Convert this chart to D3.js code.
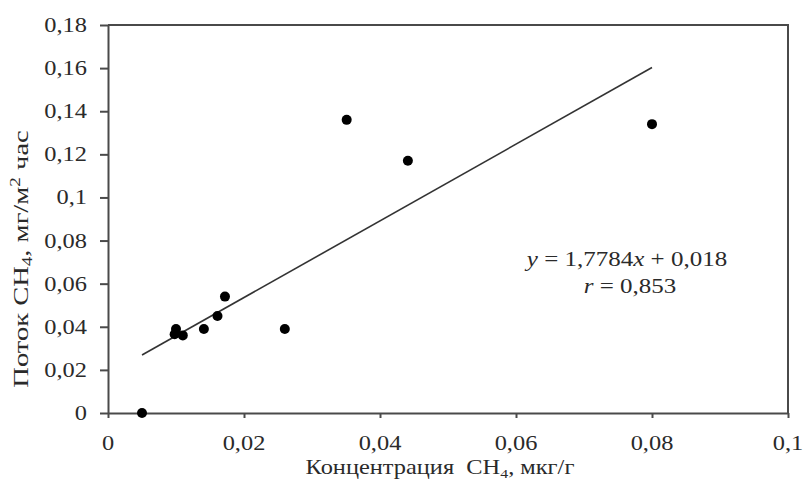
<!DOCTYPE html>
<html>
<head>
<meta charset="utf-8">
<script src="https://cdn.jsdelivr.net/npm/d3@7/dist/d3.min.js"></script>
<style>
  body { margin: 0; background: #fff; }
  text { font-family: "Liberation Serif", "Times New Roman", serif; fill: #2a2a2a; }
</style>
</head>
<body>
<svg id="chart" width="804" height="483"></svg>
<script>
// concentration CH4 (мкг/г) vs flux CH4 (мг/м2 час)
const concX = [0.005, 0.0100, 0.0098, 0.0110, 0.0141, 0.0161, 0.0172, 0.026, 0.0351, 0.0441, 0.080];
const fluxY = [0.000, 0.0390, 0.0365, 0.0360, 0.0390, 0.0450, 0.0540, 0.039, 0.1360, 0.1170, 0.134];

// trend line y = a*x + b
const slope = 1.7784;
const intercept = 0.018;

const xTicks = [0, 0.02, 0.04, 0.06, 0.08, 0.1];
const xTickLabels = ["0", "0,02", "0,04", "0,06", "0,08", "0,1"];
const yTicks = [0, 0.02, 0.04, 0.06, 0.08, 0.1, 0.12, 0.14, 0.16, 0.18];
const yTickLabels = ["0", "0,02", "0,04", "0,06", "0,08", "0,1", "0,12", "0,14", "0,16", "0,18"];

const svg = d3.select('#chart');
const stretch = 1.22; // text in the source is a bit wide

const x = d3.scaleLinear().domain([0, 0.1]).range([108, 788]);
const y = d3.scaleLinear().domain([0, 0.18]).range([413, 25]);

const axisColor = '#4a4a4a';

// frame (top + right)
svg.append('path')
  .attr('d', `M${x(0)},${y(0.18)}H${x(0.1)}V${y(0)}`)
  .attr('fill', 'none')
  .attr('stroke', axisColor)
  .attr('stroke-width', 2);

const gx = svg.append('g')
  .attr('transform', `translate(0,${y(0)})`)
  .call(d3.axisBottom(x).tickValues(xTicks).tickSize(5).tickSizeOuter(0).tickFormat(''));
const gy = svg.append('g')
  .attr('transform', `translate(${x(0)},0)`)
  .call(d3.axisLeft(y).tickValues(yTicks).tickSize(8).tickSizeOuter(0).tickFormat(''));
[gx, gy].forEach(g => {
  g.selectAll('path, line').attr('stroke', axisColor).attr('stroke-width', 2);
});

// tick labels
svg.selectAll('.xlab')
  .data(xTicks)
  .enter().append('text')
  .attr('class', 'xlab')
  .attr('transform', d => `translate(${x(d)},450) scale(${stretch},1)`)
  .attr('text-anchor', 'middle')
  .attr('font-size', 20)
  .text((d, i) => xTickLabels[i]);

svg.selectAll('.ylab')
  .data(yTicks)
  .enter().append('text')
  .attr('class', 'ylab')
  .attr('transform', d => `translate(87,${y(d) + 7}) scale(${stretch},1)`)
  .attr('text-anchor', 'end')
  .attr('font-size', 20)
  .text((d, i) => yTickLabels[i]);

// trend line over data range
const xr = d3.extent(concX);
svg.append('line')
  .attr('x1', x(xr[0])).attr('y1', y(slope * xr[0] + intercept))
  .attr('x2', x(xr[1])).attr('y2', y(slope * xr[1] + intercept))
  .attr('stroke', '#333')
  .attr('stroke-width', 1.6);

// points
svg.selectAll('circle')
  .data(concX)
  .enter().append('circle')
  .attr('cx', d => x(d))
  .attr('cy', (d, i) => y(fluxY[i]))
  .attr('r', 5)
  .attr('fill', '#000');

// equation
const eq = svg.append('text')
  .attr('transform', `translate(627,266) scale(1.25,1)`)
  .attr('text-anchor', 'middle')
  .attr('font-size', 20);
eq.append('tspan').attr('font-style', 'italic').text('y');
eq.append('tspan').text(' = 1,7784');
eq.append('tspan').attr('font-style', 'italic').text('x');
eq.append('tspan').text(' + 0,018');

const rr = svg.append('text')
  .attr('transform', `translate(630,293) scale(1.25,1)`)
  .attr('text-anchor', 'middle')
  .attr('font-size', 20);
rr.append('tspan').attr('font-style', 'italic').text('r');
rr.append('tspan').text(' = 0,853');

// axis titles
const xt = svg.append('text')
  .attr('transform', `translate(440,474) scale(${stretch},1)`)
  .attr('text-anchor', 'middle')
  .attr('font-size', 20)
  .attr('xml:space', 'preserve');
xt.append('tspan').text('Концентрация  CH');
xt.append('tspan').attr('font-size', 13).attr('dy', 4).text('4');
xt.append('tspan').attr('dy', -4).text(', мкг/г');

const yt = svg.append('text')
  .attr('transform', `translate(28,259) rotate(-90) scale(1.36,1)`)
  .attr('text-anchor', 'middle')
  .attr('font-size', 21);
yt.append('tspan').text('Поток CH');
yt.append('tspan').attr('font-size', 14).attr('dy', 4).text('4');
yt.append('tspan').attr('dy', -4).text(', мг/м');
yt.append('tspan').attr('font-size', 14).attr('dy', -8).text('2');
yt.append('tspan').attr('dy', 8).text(' час');
</script>
</body>
</html>
